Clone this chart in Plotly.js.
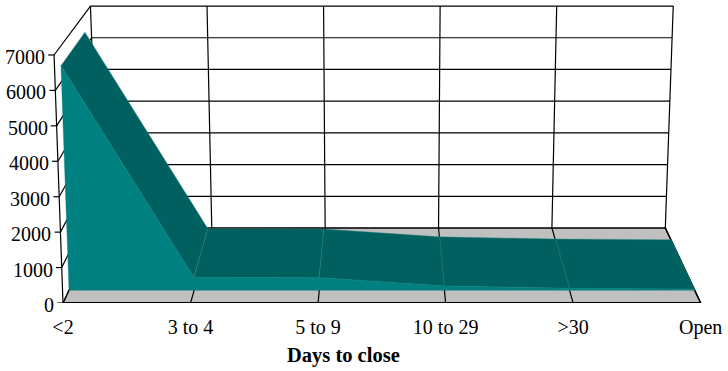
<!DOCTYPE html>
<html>
<head>
<meta charset="utf-8">
<script src="https://cdn.plot.ly/plotly-3.0.1.min.js"></script>
<style>html,body{margin:0;padding:0;background:#fff}#chart{width:728px;height:371px}</style>
</head>
<body>
<div id="chart"></div>
<script>
// Days-to-close distribution, drawn as a 3D-style area chart on 2D axes.
const categories = ['<2', '3 to 4', '5 to 9', '10 to 29', '>30', 'Open'];
const closedCounts = [6450, 370, 360, 120, 55, 30];
const valueTicks = [0, 1000, 2000, 3000, 4000, 5000, 6000, 7000];
const xTitle = 'Days to close';

const FONT = '"Liberation Serif", "Times New Roman", serif';
const INK = '#000000';
const FACE = '#008080';
const TOP = '#006060';
const FLOOR = '#c0c0c0';
const SEAM = '#2f8a87';

// Oblique view: depth d runs from 0 (front of the floor) to 1 (back wall).
const VMAX = 7000, UMID = 2.5;
const SHRINK_U = 0.111, FLARE_V = 0.028, SHRINK_V = 0.105, FLOOR_RISE = 2117;
const AREA_FRONT = 0.17, AREA_BACK = 0.83;

function project(u, v, d) {
  const s = (1 - SHRINK_U * d) * (1 + FLARE_V * v / VMAX);
  return [UMID + (u - UMID) * s, v * (1 - SHRINK_V * d) + FLOOR_RISE * d];
}

function polyline(points, color, width) {
  const xy = points.map(p => project(p[0], p[1], p[2]));
  return {
    type: 'scatter', mode: 'lines', hoverinfo: 'skip', showlegend: false,
    x: xy.map(p => p[0]), y: xy.map(p => p[1]), cliponaxis: false,
    line: {color: color, width: width, simplify: false}
  };
}
function polygon(points, fill, edge, width) {
  const t = polyline(points.concat([points[0]]), edge || fill, width === undefined ? 0.5 : width);
  t.fill = 'toself';
  t.fillcolor = fill;
  return t;
}

const last = categories.length - 1;
const traces = [];

// Floor
traces.push(polygon([[0, 0, 0], [last, 0, 0], [last, 0, 1], [0, 0, 1]], FLOOR));

// Value gridlines on the back and side walls
valueTicks.slice(1).forEach(v => {
  traces.push(polyline([[0, v, 0], [0, v, 1], [last, v, 1]], INK, 1.2));
});
// Category gridlines on the back wall and across the floor
categories.forEach((c, i) => {
  traces.push(polyline([[i, VMAX, 1], [i, 0, 1], [i, 0, -0.063]], INK, 1.2));
});
// Floor outline and side-wall edges
traces.push(polyline([[0, 0, 1], [last, 0, 1]], INK, 1.6));
traces.push(polyline([[0, 0, 0], [0, 0, 1]], INK, 1.2));
traces.push(polyline([[last, 0, 0], [last, 0, 1]], INK, 1.5));
traces.push(polyline([[0, 0, 0], [last, 0, 0]], INK, 2));
traces.push(polyline([[0, 0, 0], [0, VMAX, 0]], INK, 1.2));

// Top surface of the area, one strip per category interval
closedCounts.slice(0, -1).forEach((v, i) => {
  const next = closedCounts[i + 1];
  traces.push(polygon([
    [i, v, AREA_FRONT], [i + 1, next, AREA_FRONT],
    [i + 1, next, AREA_BACK], [i, v, AREA_BACK]
  ], TOP, SEAM, 0.4));
});
// Front face of the area
traces.push(polygon(
  [[0, 0, AREA_FRONT]]
    .concat(closedCounts.map((v, i) => [i, v, AREA_FRONT]))
    .concat([[last, 0, AREA_FRONT]]),
  FACE, FACE, 0.4));

// Value-axis tick marks
valueTicks.forEach(v => {
  traces.push(polyline([[-0.045, v, 0], [0, v, 0]], INK, 1.2));
});

const valueLabels = valueTicks.map(v => {
  const p = project(0, v, 0);
  return {
    x: p[0], y: p[1], xref: 'x', yref: 'y', text: String(v), showarrow: false,
    xanchor: 'right', yanchor: 'middle', xshift: -7, yshift: -2,
    font: {family: FONT, size: 20, color: INK}
  };
});

// Axis title, centred under the category labels
const titleNote = {
  x: 2.2, y: 0, xref: 'x', yref: 'y', yanchor: 'middle', xanchor: 'center',
  yshift: -52, showarrow: false, text: '<b>' + xTitle + '</b>',
  font: {family: FONT, size: 20.5, color: '#000000'}
};

const layout = {
  width: 728, height: 371,
  margin: {l: 0, r: 0, t: 0, b: 68, pad: 0},
  paper_bgcolor: '#ffffff', plot_bgcolor: '#ffffff',
  showlegend: false,
  xaxis: {
    type: 'linear',
    range: [-63 / 127.54, 665 / 127.54],
    tickmode: 'array',
    tickvals: categories.map((c, i) => i),
    ticktext: categories.map(c => c.replace('<', '&lt;').replace('>', '&gt;')),
    tickfont: {family: FONT, size: 20, color: INK},
    ticks: '', ticklabelstandoff: 10,
    showgrid: false, zeroline: false, showline: false
  },
  yaxis: {
    type: 'linear', range: [0, 303 / 0.03543],
    visible: false, showgrid: false, zeroline: false
  },
  annotations: valueLabels.concat([titleNote])
};

Plotly.newPlot('chart', traces, layout, {staticPlot: true, displayModeBar: false});
</script>
</body>
</html>
